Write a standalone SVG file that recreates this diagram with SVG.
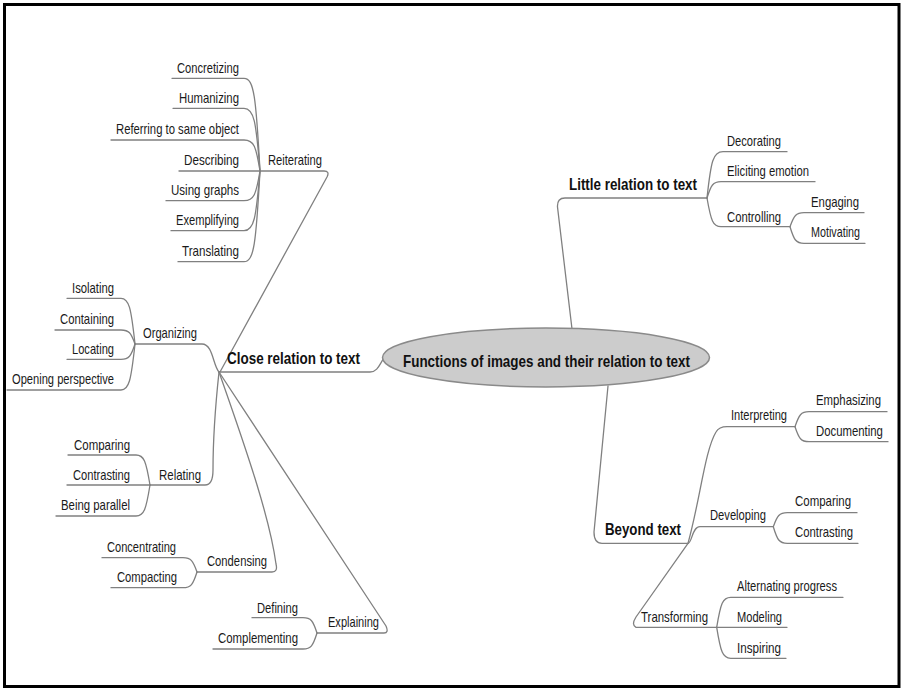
<svg xmlns="http://www.w3.org/2000/svg" width="902" height="689" viewBox="0 0 902 689">
<style>
.bg{fill:#ffffff}
.frame{fill:none;stroke:#000;stroke-width:3}
.c{fill:none;stroke:#808080;stroke-width:1.3;stroke-linecap:round;stroke-linejoin:round}
.t{font-family:"Liberation Sans",Arial,sans-serif;font-size:15px;fill:#1a1a1a}
.b{font-family:"Liberation Sans",Arial,sans-serif;font-size:17px;font-weight:bold;fill:#111}
.root{fill:#cccccc;stroke:#8a8a8a;stroke-width:1.5}
</style>
<rect class="bg" x="0" y="0" width="902" height="689"/>
<rect class="frame" x="4.5" y="4.5" width="894.5" height="682"/>
<g id="connectors">
<path class="c" d="M219,372 H370 C378,372 380,363 384,358"/>
<path class="c" d="M572,329 L557.5,207 Q557,198 565,198 H707"/>
<path class="c" d="M608,386 L594,532 Q594,543.3 602,543.3 H688"/>
<path class="c" d="M260,171 H324 Q330,171 327,177 L220,372"/>
<path class="c" d="M135,344 H202 C213,344 213,366 219,372"/>
<path class="c" d="M150,485 H205 C211,485 213,478 213,470 C213,430 216,400 219,372"/>
<path class="c" d="M197,572 H272 Q278,572 276,564 C270,520 250,460 219,372"/>
<path class="c" d="M317,633 H384 Q389,633 386,626 L219,372"/>
<path class="c" d="M260,171 C256,96.8 254,78.3 244,78.3 H172"/>
<path class="c" d="M260,171 C256,120.8 254,108.3 244,108.3 H173"/>
<path class="c" d="M260,171 C256,146.2 254,140 244,140 H111"/>
<path class="c" d="M260,171 H179"/>
<path class="c" d="M260,171 C256,194.8 254,200.7 244,200.7 H166"/>
<path class="c" d="M260,171 C256,218.8 254,230.7 244,230.7 H171"/>
<path class="c" d="M260,171 C256,243.6 254,261.7 244,261.7 H178"/>
<path class="c" d="M135,344 C131,307.4 129,298.3 121,298.3 H67"/>
<path class="c" d="M135,344 C131,332.8 129,330 121,330 H55"/>
<path class="c" d="M135,344 C131,356.2 129,359.3 121,359.3 H67"/>
<path class="c" d="M135,344 C131,380.8 129,390 121,390 H7"/>
<path class="c" d="M150,485 C146,461 144,455 136,455 H68"/>
<path class="c" d="M150,485 H67"/>
<path class="c" d="M150,485 C146,509.8 144,516 136,516 H56"/>
<path class="c" d="M197,572 C193,560.6 191,557.7 183,557.7 H102"/>
<path class="c" d="M197,572 C193,584.6 191,587.7 183,587.7 H111"/>
<path class="c" d="M317,633 C313,620.8 311,617.7 303,617.7 H252"/>
<path class="c" d="M317,633 C313,645.8 311,649 303,649 H213"/>
<path class="c" d="M707,198 C711,161 713,151.7 723,151.7 H787"/>
<path class="c" d="M707,198 C711,185 713,181.7 721,181.7 H815"/>
<path class="c" d="M707,198 C711,221 713,226.7 721,226.7 H790"/>
<path class="c" d="M790,226.7 C794,215.5 796,212.7 804,212.7 H864"/>
<path class="c" d="M790,226.7 C794,240 796,243.3 804,243.3 H865"/>
<path class="c" d="M688,543.3 C700,500 705,450 716,432 Q719,426.7 727,426.7 H795"/>
<path class="c" d="M688,543.3 C692,543.3 692,526.7 700,526.7 H773.3"/>
<path class="c" d="M688,543.3 L636,617 Q631,625 636,627.3 H716.7"/>
<path class="c" d="M795,426.7 C799,414.7 801,411.7 809,411.7 H887"/>
<path class="c" d="M795,426.7 C799,438.7 801,441.7 809,441.7 H888"/>
<path class="c" d="M773.3,526.7 C777.3,515.5 779.3,512.7 787.3,512.7 H857"/>
<path class="c" d="M773.3,526.7 C777.3,540 779.3,543.3 787.3,543.3 H858"/>
<path class="c" d="M716.7,627.3 C720.7,603.3 722.7,597.3 730.7,597.3 H843"/>
<path class="c" d="M716.7,627.3 H787"/>
<path class="c" d="M716.7,627.3 C720.7,652.1 722.7,658.3 730.7,658.3 H786"/>
</g>
<g id="root">
<ellipse class="root" cx="546" cy="357.5" rx="163.5" ry="29.5"/>
<text class="b" x="403" y="367" textLength="287" lengthAdjust="spacingAndGlyphs">Functions of images and their relation to text</text>
</g>
<g id="close"><text class="b" x="227" y="364" textLength="133" lengthAdjust="spacingAndGlyphs">Close relation to text</text></g>
<g id="little"><text class="b" x="569" y="190" textLength="128" lengthAdjust="spacingAndGlyphs">Little relation to text</text></g>
<g id="beyond"><text class="b" x="605" y="535" textLength="76" lengthAdjust="spacingAndGlyphs">Beyond text</text></g>
<g id="reiterating"><text class="t" x="268" y="165" textLength="54" lengthAdjust="spacingAndGlyphs">Reiterating</text></g>
<g id="concretizing"><text class="t" x="177" y="73" textLength="62" lengthAdjust="spacingAndGlyphs">Concretizing</text></g>
<g id="humanizing"><text class="t" x="179" y="103" textLength="60" lengthAdjust="spacingAndGlyphs">Humanizing</text></g>
<g id="referring"><text class="t" x="116" y="134" textLength="123" lengthAdjust="spacingAndGlyphs">Referring to same object</text></g>
<g id="describing"><text class="t" x="184" y="165" textLength="55" lengthAdjust="spacingAndGlyphs">Describing</text></g>
<g id="usinggraphs"><text class="t" x="171" y="195" textLength="68" lengthAdjust="spacingAndGlyphs">Using graphs</text></g>
<g id="exemplifying"><text class="t" x="176" y="225" textLength="63" lengthAdjust="spacingAndGlyphs">Exemplifying</text></g>
<g id="translating"><text class="t" x="182" y="256" textLength="57" lengthAdjust="spacingAndGlyphs">Translating</text></g>
<g id="organizing"><text class="t" x="143" y="338" textLength="54" lengthAdjust="spacingAndGlyphs">Organizing</text></g>
<g id="isolating"><text class="t" x="72" y="293" textLength="42" lengthAdjust="spacingAndGlyphs">Isolating</text></g>
<g id="containing"><text class="t" x="60" y="324" textLength="54" lengthAdjust="spacingAndGlyphs">Containing</text></g>
<g id="locating"><text class="t" x="72" y="354" textLength="42" lengthAdjust="spacingAndGlyphs">Locating</text></g>
<g id="opening"><text class="t" x="12" y="384" textLength="102" lengthAdjust="spacingAndGlyphs">Opening perspective</text></g>
<g id="relating"><text class="t" x="159" y="480" textLength="42" lengthAdjust="spacingAndGlyphs">Relating</text></g>
<g id="comparing1"><text class="t" x="74" y="450" textLength="56" lengthAdjust="spacingAndGlyphs">Comparing</text></g>
<g id="contrasting1"><text class="t" x="73" y="480" textLength="57" lengthAdjust="spacingAndGlyphs">Contrasting</text></g>
<g id="beingparallel"><text class="t" x="61" y="510" textLength="69" lengthAdjust="spacingAndGlyphs">Being parallel</text></g>
<g id="condensing"><text class="t" x="207" y="566" textLength="60" lengthAdjust="spacingAndGlyphs">Condensing</text></g>
<g id="concentrating"><text class="t" x="107" y="552" textLength="69" lengthAdjust="spacingAndGlyphs">Concentrating</text></g>
<g id="compacting"><text class="t" x="117" y="582" textLength="60" lengthAdjust="spacingAndGlyphs">Compacting</text></g>
<g id="explaining"><text class="t" x="328" y="627" textLength="51" lengthAdjust="spacingAndGlyphs">Explaining</text></g>
<g id="defining"><text class="t" x="257" y="613" textLength="41" lengthAdjust="spacingAndGlyphs">Defining</text></g>
<g id="complementing"><text class="t" x="218" y="643" textLength="80" lengthAdjust="spacingAndGlyphs">Complementing</text></g>
<g id="decorating"><text class="t" x="727" y="146" textLength="54" lengthAdjust="spacingAndGlyphs">Decorating</text></g>
<g id="eliciting"><text class="t" x="727" y="176" textLength="82" lengthAdjust="spacingAndGlyphs">Eliciting emotion</text></g>
<g id="controlling"><text class="t" x="727" y="222" textLength="54" lengthAdjust="spacingAndGlyphs">Controlling</text></g>
<g id="engaging"><text class="t" x="811" y="207" textLength="48" lengthAdjust="spacingAndGlyphs">Engaging</text></g>
<g id="motivating"><text class="t" x="811" y="237" textLength="49" lengthAdjust="spacingAndGlyphs">Motivating</text></g>
<g id="interpreting"><text class="t" x="731" y="420" textLength="56" lengthAdjust="spacingAndGlyphs">Interpreting</text></g>
<g id="emphasizing"><text class="t" transform="translate(816,405) scale(0.757,1)">Emphasizing</text></g>
<g id="documenting"><text class="t" transform="translate(816,436) scale(0.758,1)">Documenting</text></g>
<g id="developing"><text class="t" x="710" y="520" textLength="56" lengthAdjust="spacingAndGlyphs">Developing</text></g>
<g id="comparing2"><text class="t" x="795" y="506" textLength="56" lengthAdjust="spacingAndGlyphs">Comparing</text></g>
<g id="contrasting2"><text class="t" x="795" y="537" textLength="58" lengthAdjust="spacingAndGlyphs">Contrasting</text></g>
<g id="transforming"><text class="t" x="641" y="622" textLength="67" lengthAdjust="spacingAndGlyphs">Transforming</text></g>
<g id="alternating"><text class="t" x="737" y="591" textLength="100" lengthAdjust="spacingAndGlyphs">Alternating progress</text></g>
<g id="modeling"><text class="t" x="737" y="622" textLength="45" lengthAdjust="spacingAndGlyphs">Modeling</text></g>
<g id="inspiring"><text class="t" x="737" y="653" textLength="44" lengthAdjust="spacingAndGlyphs">Inspiring</text></g>
</svg>
